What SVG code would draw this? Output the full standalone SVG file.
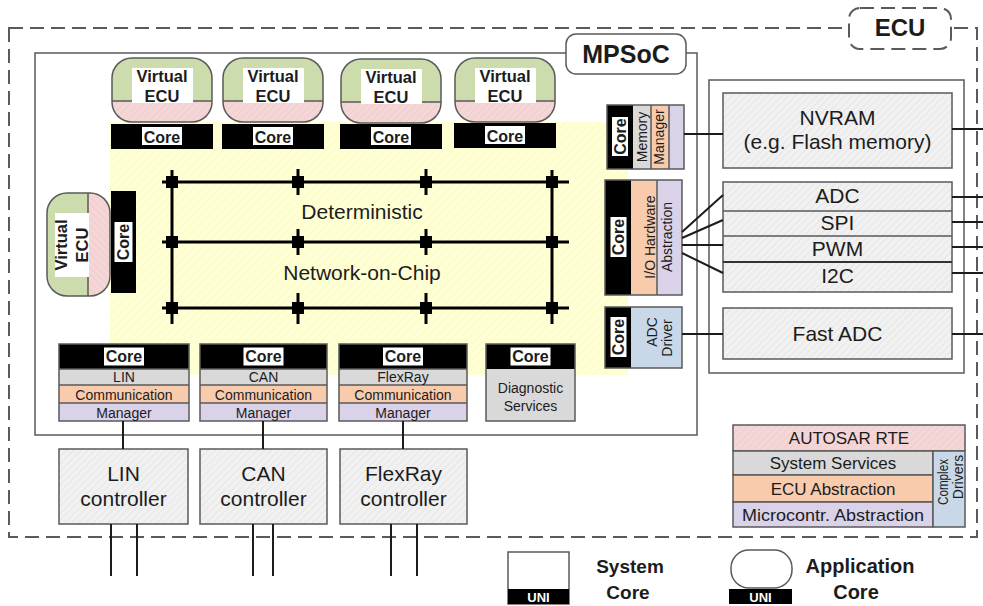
<svg xmlns="http://www.w3.org/2000/svg" width="983" height="606" viewBox="0 0 983 606">
  <defs>
    <style>
      .t{font-family:"Liberation Sans",Arial,Helvetica,sans-serif;fill:#1c1c1c}
      .b{font-weight:bold}
      .ln{stroke:#5a5a5a;stroke-width:1.5}
      .w{stroke:#1c1c1c;stroke-width:2;fill:none}
      .grid{stroke:#000;stroke-width:3}
      .wt{fill:#fff}
    </style>
    <pattern id="hPink" width="5" height="5" patternUnits="userSpaceOnUse" patternTransform="rotate(45)">
      <rect width="5" height="5" fill="#f5d6d6"/>
      <line x1="0" y1="0" x2="0" y2="5" stroke="#ebc2c2" stroke-width="1"/>
    </pattern>
    <pattern id="hGray" width="5" height="5" patternUnits="userSpaceOnUse" patternTransform="rotate(45)">
      <rect width="5" height="5" fill="#f1f1f1"/>
      <line x1="0" y1="0" x2="0" y2="5" stroke="#dcdcdc" stroke-width="1"/>
    </pattern>
    <pattern id="hYellow" width="6" height="6" patternUnits="userSpaceOnUse" patternTransform="rotate(45)">
      <rect width="6" height="6" fill="#ffffd4"/>
      <line x1="0" y1="0" x2="0" y2="6" stroke="#f8f5c6" stroke-width="1"/>
    </pattern>
    <!-- rounded virtual ECU shell, 100 x 64, green body with hatched pink foot -->
    <g id="vecuShell">
      <rect x="0" y="0" width="100" height="64" rx="20" fill="#cddcad"/>
      <path d="M0,43 H100 V44 A20,20 0 0 1 80,64 H20 A20,20 0 0 1 0,44 Z" fill="url(#hPink)"/>
      <line x1="0" y1="43" x2="100" y2="43" class="ln"/>
      <rect x="0" y="0" width="100" height="64" rx="20" fill="none" class="ln"/>
      <rect x="20" y="10" width="61" height="35" fill="#fff"/>
    </g>
    <!-- black core bar, 102 x 25 -->
    <g id="coreBar">
      <rect x="0" y="0" width="102" height="25" fill="#000"/>
      <rect x="31" y="3" width="40" height="18" fill="#fff"/>
    </g>
  </defs>

  <rect width="983" height="606" fill="#fff"/>

  <!-- ECU frame -->
  <g id="ecu">
    <rect x="9" y="28" width="968" height="509" fill="none" stroke="#5a5a5a" stroke-width="2" stroke-dasharray="14 7"/>
    <rect x="849" y="8" width="102" height="41" rx="11" fill="#fff" stroke="#5a5a5a" stroke-width="2" stroke-dasharray="14 7"/>
    <text x="900" y="36" text-anchor="middle" class="t b" font-size="24">ECU</text>
  </g>

  <!-- MPSoC frame -->
  <g id="mpsoc">
    <rect x="35" y="53" width="662" height="382" fill="#fff" class="ln"/>
    <rect x="110" y="122" width="518" height="253" fill="url(#hYellow)"/>
    <rect x="566" y="34" width="120" height="40" rx="10" fill="#fff" class="ln"/>
    <text x="626" y="63" text-anchor="middle" class="t b" font-size="25">MPSoC</text>
  </g>

  <!-- Network-on-Chip -->
  <g id="noc">
    <g class="grid">
      <line x1="162" y1="182" x2="569" y2="182"/>
      <line x1="162" y1="242" x2="569" y2="242"/>
      <line x1="162" y1="308" x2="569" y2="308"/>
      <line x1="172" y1="170" x2="172" y2="324"/>
      <line x1="552" y1="170" x2="552" y2="324"/>
      <line x1="298" y1="169" x2="298" y2="195"/>
      <line x1="298" y1="229" x2="298" y2="255"/>
      <line x1="298" y1="293" x2="298" y2="324"/>
      <line x1="426" y1="169" x2="426" y2="195"/>
      <line x1="426" y1="229" x2="426" y2="255"/>
      <line x1="426" y1="293" x2="426" y2="324"/>
    </g>
    <g fill="#000">
      <rect x="166" y="176" width="12" height="12"/><rect x="292" y="176" width="12" height="12"/>
      <rect x="420" y="176" width="12" height="12"/><rect x="546" y="176" width="12" height="12"/>
      <rect x="166" y="236" width="12" height="12"/><rect x="292" y="236" width="12" height="12"/>
      <rect x="420" y="236" width="12" height="12"/><rect x="546" y="236" width="12" height="12"/>
      <rect x="166" y="302" width="12" height="12"/><rect x="292" y="302" width="12" height="12"/>
      <rect x="420" y="302" width="12" height="12"/><rect x="546" y="302" width="12" height="12"/>
    </g>
    <text x="362" y="219" text-anchor="middle" class="t" font-size="21">Deterministic</text>
    <text x="362" y="280" text-anchor="middle" class="t" font-size="21">Network-on-Chip</text>
  </g>

  <!-- application cores with virtual ECUs -->
  <g id="app-core-1">
    <use href="#vecuShell" x="112" y="58"/>
    <text x="162" y="81.5" text-anchor="middle" class="t b" font-size="16.5">Virtual</text>
    <text x="162" y="101.5" text-anchor="middle" class="t b" font-size="16.5">ECU</text>
    <use href="#coreBar" x="111" y="124"/>
    <text x="162" y="142.5" text-anchor="middle" class="t b" font-size="16">Core</text>
  </g>
  <g id="app-core-2">
    <use href="#vecuShell" x="223" y="58"/>
    <text x="273" y="81.5" text-anchor="middle" class="t b" font-size="16.5">Virtual</text>
    <text x="273" y="101.5" text-anchor="middle" class="t b" font-size="16.5">ECU</text>
    <use href="#coreBar" x="222" y="124"/>
    <text x="273" y="142.5" text-anchor="middle" class="t b" font-size="16">Core</text>
  </g>
  <g id="app-core-3">
    <use href="#vecuShell" x="341" y="59"/>
    <text x="391" y="82.5" text-anchor="middle" class="t b" font-size="16.5">Virtual</text>
    <text x="391" y="102.5" text-anchor="middle" class="t b" font-size="16.5">ECU</text>
    <use href="#coreBar" x="340" y="124"/>
    <text x="391" y="142.5" text-anchor="middle" class="t b" font-size="16">Core</text>
  </g>
  <g id="app-core-4">
    <use href="#vecuShell" x="455" y="58"/>
    <text x="505" y="81.5" text-anchor="middle" class="t b" font-size="16.5">Virtual</text>
    <text x="505" y="101.5" text-anchor="middle" class="t b" font-size="16.5">ECU</text>
    <use href="#coreBar" x="454" y="123"/>
    <text x="505" y="141.5" text-anchor="middle" class="t b" font-size="16">Core</text>
  </g>
  <g id="app-core-5">
    <g transform="translate(47,296) rotate(-90)">
      <rect x="0" y="0" width="103" height="63" rx="20" fill="#cddcad"/>
      <path d="M0,41 H103 V43 A20,20 0 0 1 83,63 H20 A20,20 0 0 1 0,43 Z" fill="url(#hPink)"/>
      <line x1="0" y1="41" x2="103" y2="41" class="ln"/>
      <rect x="0" y="0" width="103" height="63" rx="20" fill="none" class="ln"/>
      <rect x="19" y="8" width="64" height="34" fill="#fff"/>
      <text x="51" y="20" text-anchor="middle" class="t b" font-size="16.5">Virtual</text>
      <text x="51" y="41" text-anchor="middle" class="t b" font-size="16.5">ECU</text>
    </g>
    <rect x="111" y="191" width="25" height="102" fill="#000"/>
    <rect x="114.5" y="222" width="18" height="40" fill="#fff"/>
    <text transform="translate(123.5,242) rotate(-90)" y="5.7" text-anchor="middle" class="t b" font-size="16">Core</text>
  </g>

  <!-- system cores: communication managers -->
  <g id="lin-manager">
    <rect x="59" y="344" width="130" height="25" fill="#000"/>
    <rect x="104" y="347.5" width="40" height="18" fill="#fff"/>
    <text x="124" y="362" text-anchor="middle" class="t b" font-size="16">Core</text>
    <rect x="59" y="369" width="130" height="16" fill="#d9d9d9"/>
    <rect x="59" y="385" width="130" height="18" fill="#f8cbad"/>
    <rect x="59" y="403" width="130" height="18" fill="#d9d2e9"/>
    <path d="M59,369 H189 M59,385 H189 M59,403 H189" class="ln"/>
    <rect x="59" y="344" width="130" height="77" fill="none" class="ln"/>
    <text x="124" y="382" text-anchor="middle" class="t" font-size="14">LIN</text>
    <text x="124" y="399.5" text-anchor="middle" class="t" font-size="14">Communication</text>
    <text x="124" y="417.5" text-anchor="middle" class="t" font-size="14">Manager</text>
  </g>
  <g id="can-manager">
    <rect x="200" y="344" width="127" height="25" fill="#000"/>
    <rect x="243.5" y="347.5" width="40" height="18" fill="#fff"/>
    <text x="263.5" y="362" text-anchor="middle" class="t b" font-size="16">Core</text>
    <rect x="200" y="369" width="127" height="16" fill="#d9d9d9"/>
    <rect x="200" y="385" width="127" height="18" fill="#f8cbad"/>
    <rect x="200" y="403" width="127" height="18" fill="#d9d2e9"/>
    <path d="M200,369 H327 M200,385 H327 M200,403 H327" class="ln"/>
    <rect x="200" y="344" width="127" height="77" fill="none" class="ln"/>
    <text x="263.5" y="382" text-anchor="middle" class="t" font-size="14">CAN</text>
    <text x="263.5" y="399.5" text-anchor="middle" class="t" font-size="14">Communication</text>
    <text x="263.5" y="417.5" text-anchor="middle" class="t" font-size="14">Manager</text>
  </g>
  <g id="flexray-manager">
    <rect x="339" y="344" width="128" height="25" fill="#000"/>
    <rect x="383" y="347.5" width="40" height="18" fill="#fff"/>
    <text x="403" y="362" text-anchor="middle" class="t b" font-size="16">Core</text>
    <rect x="339" y="369" width="128" height="16" fill="#d9d9d9"/>
    <rect x="339" y="385" width="128" height="18" fill="#f8cbad"/>
    <rect x="339" y="403" width="128" height="18" fill="#d9d2e9"/>
    <path d="M339,369 H467 M339,385 H467 M339,403 H467" class="ln"/>
    <rect x="339" y="344" width="128" height="77" fill="none" class="ln"/>
    <text x="403" y="382" text-anchor="middle" class="t" font-size="14">FlexRay</text>
    <text x="403" y="399.5" text-anchor="middle" class="t" font-size="14">Communication</text>
    <text x="403" y="417.5" text-anchor="middle" class="t" font-size="14">Manager</text>
  </g>
  <g id="diagnostic-services">
    <rect x="486" y="344" width="89" height="25" fill="#000"/>
    <rect x="510.5" y="347.5" width="40" height="18" fill="#fff"/>
    <text x="530.5" y="362" text-anchor="middle" class="t b" font-size="16">Core</text>
    <rect x="486" y="369" width="89" height="52" fill="#d9d9d9"/>
    <rect x="486" y="344" width="89" height="77" fill="none" class="ln"/>
    <text x="530.5" y="393" text-anchor="middle" class="t" font-size="14">Diagnostic</text>
    <text x="530.5" y="411" text-anchor="middle" class="t" font-size="14">Services</text>
  </g>

  <!-- system cores on the right side -->
  <g id="memory-manager">
    <rect x="607" y="105" width="26" height="64" fill="#000"/>
    <rect x="633" y="105" width="18" height="64" fill="#d9d9d9"/>
    <rect x="651" y="105" width="18" height="64" fill="#f8cbad"/>
    <rect x="669" y="105" width="15" height="64" fill="#d9d2e9"/>
    <path d="M651,105 V169 M669,105 V169" class="ln"/>
    <rect x="607" y="105" width="77" height="64" fill="none" class="ln"/>
    <rect x="612" y="117" width="16" height="39" fill="#fff"/>
    <text transform="translate(620,136.5) rotate(-90)" y="5.7" text-anchor="middle" class="t b" font-size="16">Core</text>
    <text transform="translate(642,137) rotate(-90)" y="5" text-anchor="middle" class="t" font-size="14">Memory</text>
    <text transform="translate(659,137) rotate(-90)" y="5" text-anchor="middle" class="t" font-size="14">Manager</text>
  </g>
  <g id="io-hw-abstraction">
    <rect x="605" y="180" width="26" height="115" fill="#000"/>
    <rect x="631" y="180" width="26" height="115" fill="#f8cbad"/>
    <rect x="657" y="180" width="25" height="115" fill="#d9d2e9"/>
    <path d="M657,180 V295" class="ln"/>
    <rect x="605" y="180" width="77" height="115" fill="none" class="ln"/>
    <rect x="610.5" y="217" width="16" height="40" fill="#fff"/>
    <text transform="translate(618.5,237) rotate(-90)" y="5.7" text-anchor="middle" class="t b" font-size="16">Core</text>
    <text transform="translate(650,237) rotate(-90)" y="5" text-anchor="middle" class="t" font-size="14">I/O Hardware</text>
    <text transform="translate(667,237) rotate(-90)" y="5" text-anchor="middle" class="t" font-size="14">Abstraction</text>
  </g>
  <g id="adc-driver">
    <rect x="605" y="307" width="26" height="61" fill="#000"/>
    <rect x="631" y="307" width="51" height="61" fill="#c9d8e8"/>
    <rect x="605" y="307" width="77" height="61" fill="none" class="ln"/>
    <rect x="610.5" y="317" width="16" height="40" fill="#fff"/>
    <text transform="translate(618.5,337) rotate(-90)" y="5.7" text-anchor="middle" class="t b" font-size="16">Core</text>
    <text transform="translate(652,332) rotate(-90)" y="5" text-anchor="middle" class="t" font-size="14">ADC</text>
    <text transform="translate(667,338) rotate(-90)" y="5" text-anchor="middle" class="t" font-size="14">Driver</text>
  </g>

  <!-- on-chip peripherals -->
  <g id="peripherals">
    <rect x="709" y="80" width="255" height="293" fill="#fff" class="ln"/>
  </g>
  <g id="nvram">
    <rect x="723" y="93" width="229" height="75" fill="url(#hGray)" class="ln"/>
    <text x="837.5" y="125" text-anchor="middle" class="t" font-size="21">NVRAM</text>
    <text x="837.5" y="149" text-anchor="middle" class="t" font-size="21">(e.g. Flash memory)</text>
  </g>
  <g id="io-peripherals">
    <rect x="723" y="182" width="229" height="110" fill="url(#hGray)" class="ln"/>
    <path d="M723,211 H952 M723,236 H952" class="ln"/>
    <line x1="723" y1="262" x2="952" y2="262" stroke="#333" stroke-width="2"/>
    <text x="837.5" y="203" text-anchor="middle" class="t" font-size="21">ADC</text>
    <text x="837.5" y="230" text-anchor="middle" class="t" font-size="21">SPI</text>
    <text x="837.5" y="256" text-anchor="middle" class="t" font-size="21">PWM</text>
    <text x="837.5" y="283" text-anchor="middle" class="t" font-size="21">I2C</text>
  </g>
  <g id="fast-adc">
    <rect x="723" y="308" width="229" height="51" fill="url(#hGray)" class="ln"/>
    <text x="837.5" y="341" text-anchor="middle" class="t" font-size="21">Fast ADC</text>
  </g>

  <!-- bus controllers -->
  <g id="lin-controller">
    <rect x="59" y="449" width="129" height="75" fill="url(#hGray)" class="ln"/>
    <text x="123.5" y="481" text-anchor="middle" class="t" font-size="21">LIN</text>
    <text x="123.5" y="506" text-anchor="middle" class="t" font-size="21">controller</text>
  </g>
  <g id="can-controller">
    <rect x="200" y="449" width="127" height="75" fill="url(#hGray)" class="ln"/>
    <text x="263.5" y="481" text-anchor="middle" class="t" font-size="21">CAN</text>
    <text x="263.5" y="506" text-anchor="middle" class="t" font-size="21">controller</text>
  </g>
  <g id="flexray-controller">
    <rect x="340" y="449" width="127" height="75" fill="url(#hGray)" class="ln"/>
    <text x="403.5" y="481" text-anchor="middle" class="t" font-size="21">FlexRay</text>
    <text x="403.5" y="506" text-anchor="middle" class="t" font-size="21">controller</text>
  </g>

  <!-- connectors -->
  <g id="connectors" class="w">
    <line x1="684" y1="134" x2="723" y2="134"/>
    <line x1="682" y1="232" x2="723" y2="195"/>
    <line x1="682" y1="238" x2="723" y2="220"/>
    <line x1="682" y1="245" x2="723" y2="245"/>
    <line x1="682" y1="253" x2="723" y2="273"/>
    <line x1="682" y1="334" x2="723" y2="334"/>
    <line x1="952" y1="129" x2="983" y2="129"/>
    <line x1="952" y1="197" x2="983" y2="197"/>
    <line x1="952" y1="222" x2="983" y2="222"/>
    <line x1="952" y1="247" x2="983" y2="247"/>
    <line x1="952" y1="273" x2="983" y2="273"/>
    <line x1="952" y1="334" x2="983" y2="334"/>
    <line x1="123" y1="421" x2="123" y2="449"/>
    <line x1="263" y1="421" x2="263" y2="449"/>
    <line x1="403" y1="421" x2="403" y2="449"/>
    <line x1="111" y1="524" x2="111" y2="576"/>
    <line x1="137" y1="524" x2="137" y2="576"/>
    <line x1="253" y1="524" x2="253" y2="576"/>
    <line x1="273" y1="524" x2="273" y2="576"/>
    <line x1="391" y1="524" x2="391" y2="576"/>
    <line x1="417" y1="524" x2="417" y2="576"/>
  </g>

  <!-- AUTOSAR layer key -->
  <g id="autosar-layers">
    <rect x="733" y="425" width="232" height="26" fill="url(#hPink)" class="ln"/>
    <rect x="733" y="451" width="200" height="24" fill="#d9d9d9" class="ln"/>
    <rect x="733" y="475" width="200" height="27" fill="#f8cbad" class="ln"/>
    <rect x="733" y="502" width="200" height="25" fill="#d9d2e9" class="ln"/>
    <rect x="933" y="451" width="32" height="76" fill="#c9d8e8" class="ln"/>
    <text x="849" y="444" text-anchor="middle" class="t" font-size="17">AUTOSAR RTE</text>
    <text x="833" y="469" text-anchor="middle" class="t" font-size="17">System Services</text>
    <text x="833" y="494.5" text-anchor="middle" class="t" font-size="17">ECU Abstraction</text>
    <text x="833" y="520.5" text-anchor="middle" class="t" font-size="17" textLength="182" lengthAdjust="spacingAndGlyphs">Microcontr. Abstraction</text>
    <text transform="translate(943,482) rotate(-90)" y="5" text-anchor="middle" class="t" font-size="14" textLength="46" lengthAdjust="spacingAndGlyphs">Complex</text>
    <text transform="translate(957.5,477) rotate(-90)" y="5" text-anchor="middle" class="t" font-size="14">Drivers</text>
  </g>

  <!-- core type key -->
  <g id="key-system-core">
    <rect x="508" y="552" width="61" height="52" fill="#fff" class="ln"/>
    <rect x="508" y="589" width="61" height="15" fill="#000"/>
    <text x="538.5" y="601.5" text-anchor="middle" class="t b wt" font-size="13">UNI</text>
    <text x="630" y="573" text-anchor="middle" class="t b" font-size="19">System</text>
    <text x="628" y="599" text-anchor="middle" class="t b" font-size="19">Core</text>
  </g>
  <g id="key-application-core">
    <rect x="731" y="550" width="61" height="38" rx="18" fill="#fff" class="ln"/>
    <rect x="729" y="589" width="63" height="15" fill="#000"/>
    <text x="760.5" y="601.5" text-anchor="middle" class="t b wt" font-size="13">UNI</text>
    <text x="860" y="573" text-anchor="middle" class="t b" font-size="20">Application</text>
    <text x="856" y="599" text-anchor="middle" class="t b" font-size="20">Core</text>
  </g>
</svg>
